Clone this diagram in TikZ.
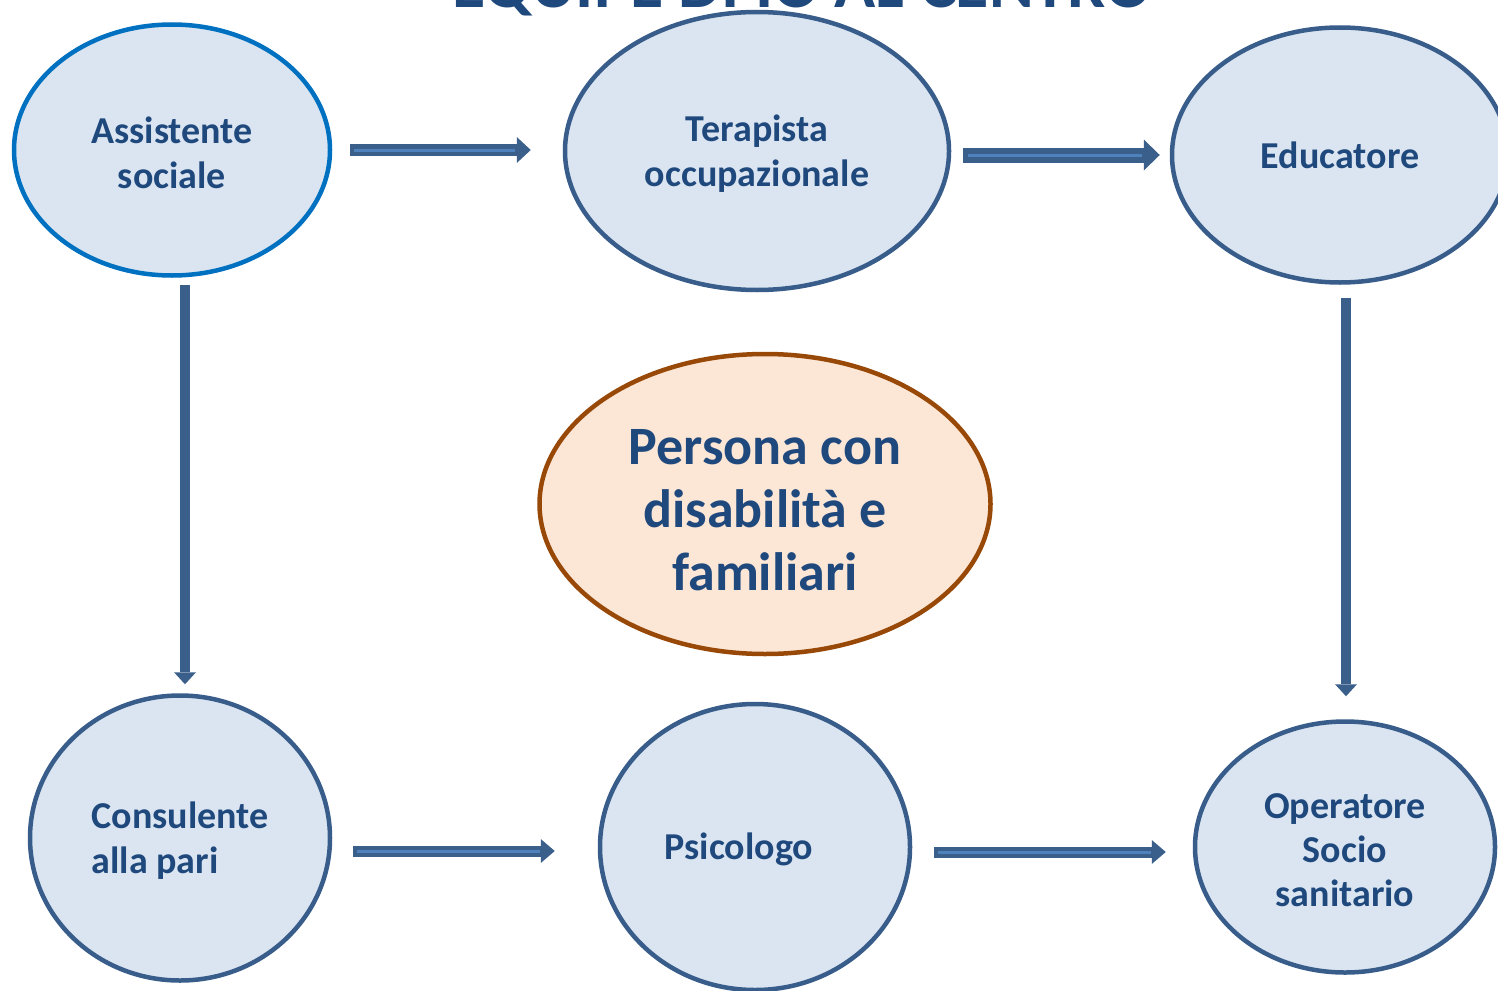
\documentclass[tikz,border=0pt]{standalone}
\usepackage{fontspec}
\setmainfont{Carlito}
\usetikzlibrary{shapes.geometric,arrows.meta}
\definecolor{txtblue}{RGB}{31,73,125}
\definecolor{edgeblue}{RGB}{56,93,138}
\definecolor{fillblue}{RGB}{219,229,241}
\definecolor{brightblue}{RGB}{0,112,192}
\definecolor{peach}{RGB}{252,230,214}
\definecolor{brown}{RGB}{152,72,7}
\definecolor{arrblue}{RGB}{58,95,139}
\definecolor{innerblue}{RGB}{79,129,189}
\tikzset{
  role/.style={ellipse, draw=edgeblue, fill=fillblue, line width=4.5pt, inner sep=0pt,
    text=txtblue, font=\bfseries\fontsize{38}{45}\selectfont, align=center},
  lbl/.style={text=txtblue, font=\bfseries\fontsize{38}{45}\selectfont, align=center, inner sep=0pt},
  barrow/.style={draw=arrblue, line width=#1},
  inner/.style={draw=innerblue, line width=3pt},
}
\begin{document}
\begin{tikzpicture}[x=1pt,y=-1pt]
\useasboundingbox (0,0) rectangle (1498,990);
\clip (0,0) rectangle (1498,990);
\fill[white] (0,0) rectangle (1498,990);
% title (cut off at top)
\node[anchor=base, text=txtblue, font=\bfseries\fontsize{68}{70}\selectfont, inner sep=0pt] (title) at (802,8) {EQUIPE DI IO AL CENTRO};
% nodes
\node[role, draw=brightblue, minimum width=316, minimum height=251] (as) at (172,150) {};
\node[lbl] (asT) at (172,153) {Assistente\\sociale};
\node[role, minimum width=384, minimum height=278] (tp) at (757,151) {};
\node[lbl] (tpT) at (757,154) {Terapista\\occupazionale};
\node[role, minimum width=336, minimum height=255] (ed) at (1340,155) {Educatore};
\node[role, minimum width=300, minimum height=285] (cs) at (180,838) {};
\node[lbl, align=left] (csT) at (180,841) {Consulente\\alla pari};
\node[role, minimum width=310, minimum height=286] (ps) at (755,847) {};
\node[lbl] (psT) at (739,849) {Psicologo};
\node[role, minimum width=300, minimum height=251] (op) at (1345,847) {};
\node[lbl, font=\bfseries\fontsize{38}{44}\selectfont] (opT) at (1345,850) {Operatore\\Socio\\sanitario};
\node[ellipse, draw=brown, fill=peach, line width=4.5pt, inner sep=0pt, minimum width=451, minimum height=300] (pc) at (765,504) {};
\node[text=txtblue, font=\bfseries\fontsize{54}{63}\selectfont, align=center, inner sep=0pt] (pcT) at (765,510) {Persona con\\disabilità e\\familiari};
% connector end points
\coordinate (a5s) at ([yshift=-13pt]cs.east);
\coordinate (a6s) at ([yshift=-5pt]ps.east);
\coordinate (a3s) at ([xshift=13pt]as.south);
\coordinate (a4s) at ([xshift=6pt]ed.south);
% arrows
\draw[barrow=12pt, -{Triangle[width=26pt,length=14pt,line width=0pt]}, shorten <=18pt, shorten >=32pt]
  (as.east) -- (as.east -| tp.west);
\draw[inner, shorten <=22pt, shorten >=48pt] (as.east) -- (as.east -| tp.west);
\draw[barrow=15pt, -{Triangle[width=31pt,length=16pt,line width=0pt]}, shorten <=12pt, shorten >=10pt]
  (tp.east |- ed.west) -- (ed.west);
\draw[inner, shorten <=17pt, shorten >=28pt] (tp.east |- ed.west) -- (ed.west);
\draw[barrow=10pt, -{Triangle[width=22pt,length=12pt,line width=0pt]}, shorten <=7pt, shorten >=9pt]
  (a3s) -- (a3s |- cs.north);
\draw[barrow=10pt, -{Triangle[width=22pt,length=12pt,line width=0pt]}, shorten <=13pt, shorten >=23pt]
  (a4s) -- (a4s |- op.north);
\draw[barrow=11pt, -{Triangle[width=24pt,length=14pt,line width=0pt]}, shorten <=21pt, shorten >=43pt]
  (a5s) -- (a5s -| ps.west);
\draw[inner, shorten <=25pt, shorten >=58pt] (a5s) -- (a5s -| ps.west);
\draw[barrow=11pt, -{Triangle[width=24pt,length=14pt,line width=0pt]}, shorten <=22pt, shorten >=27pt]
  (a6s) -- (a6s -| op.west);
\draw[inner, shorten <=26pt, shorten >=42pt] (a6s) -- (a6s -| op.west);
\end{tikzpicture}
\end{document}
